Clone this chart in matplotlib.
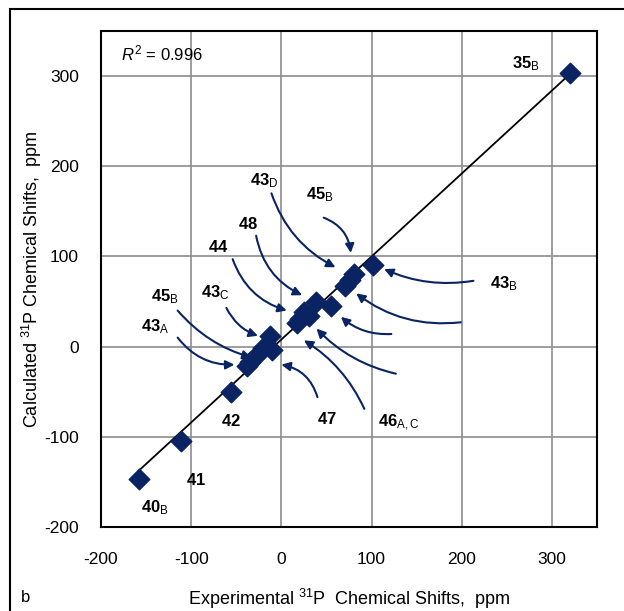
import numpy as np
import matplotlib.pyplot as plt
from matplotlib.patches import Rectangle

plt.rcParams['font.family'] = ['Liberation Sans', 'DejaVu Sans']
plt.rcParams['mathtext.fontset'] = 'custom'
plt.rcParams['mathtext.rm'] = 'Liberation Sans'
plt.rcParams['mathtext.it'] = 'Liberation Sans:italic'
plt.rcParams['mathtext.bf'] = 'Liberation Sans:bold'
plt.rcParams['axes.unicode_minus'] = False

# Data (ppm)
exp_shift = np.array([320, 102, 81, 76, 71, 38, 55, 25, 31, 21, 17,
                      -13, -10, -20, -28, -35, -38, -56, -111, -158])
calc_shift = np.array([303, 91, 81, 74, 67, 50, 45, 38, 34, 31, 26,
                       12, -4, -1, -10, -17, -21, -50, -105, -147])

# compound labels (text, x, y) in data coords
labels = [
    (r'$\mathbf{35}_\mathrm{B}$', 271, 314),
    (r'$\mathbf{40}_\mathrm{B}$', -140, -179),
    (r'$\mathbf{41}$', -95, -148),
    (r'$\mathbf{42}$', -56, -82),
    (r'$\mathbf{43}_\mathrm{D}$', -19, 184),
    (r'$\mathbf{45}_\mathrm{B}$', 43, 169),
    (r'$\mathbf{48}$', -37, 136),
    (r'$\mathbf{44}$', -70, 110),
    (r'$\mathbf{43}_\mathrm{C}$', -73, 60),
    (r'$\mathbf{45}_\mathrm{B}$', -129, 55),
    (r'$\mathbf{43}_\mathrm{A}$', -140, 22),
    (r'$\mathbf{43}_\mathrm{B}$', 247, 70),
    (r'$\mathbf{47}$', 50, -80),
    (r'$\mathbf{46}_\mathrm{A,C}$', 130, -85),
]

# arrows: start, end, curvature
arrows = [
    ((-11, 170), (60, 88), 0.2),
    ((47, 143), (77, 104), -0.3),
    ((-28, 123), (23, 57), 0.25),
    ((-54, 97), (6, 40), 0.25),
    ((-61, 43), (-26, 12), 0.2),
    ((-115, 40), (-33, -12), 0.15),
    ((-115, 10), (-52, -20), 0.25),
    ((213, 73), (114, 86), -0.15),
    ((199, 27), (83, 59), -0.2),
    ((122, 14), (66, 33), -0.2),
    ((127, -30), (39, 20), -0.15),
    ((92, -69), (25, 7), 0.15),
    ((40, -56), (0, -20), 0.3),
]

navy = '#0a2463'

fig = plt.figure(figsize=(6.24, 6.11), dpi=100)
fig.patches.append(Rectangle((10 / 624, -0.1), 1.2, 1 - 9 / 611 + 0.1,
                             transform=fig.transFigure, fill=False,
                             edgecolor='black', lw=1.5))
ax = fig.add_axes([101 / 624, 1 - 527 / 611, 496 / 624, 496 / 611])

ax.set_xlim(-200, 350)
ax.set_ylim(-200, 350)
ax.set_xticks(np.arange(-200, 301, 100))
ax.set_yticks(np.arange(-200, 301, 100))
ax.grid(True, color='#8c8c8c', lw=1.2)
ax.set_axisbelow(True)
ax.tick_params(length=0, labelsize=12.5)
ax.tick_params(axis='x', pad=18)
ax.tick_params(axis='y', pad=16)
for s in ax.spines.values():
    s.set_linewidth(1.5)

# linear fit
k, m = np.polyfit(exp_shift, calc_shift, 1)
xl = np.array([exp_shift.min(), exp_shift.max()])
ax.plot(xl, k * xl + m, color='black', lw=1.3, zorder=2)

ax.scatter(exp_shift, calc_shift, marker='D', s=110, color=navy, zorder=3)

for (x0, y0), (x1, y1), rad in arrows:
    ax.annotate('', xy=(x1, y1), xytext=(x0, y0),
                arrowprops=dict(arrowstyle='-|>', color=navy, lw=1.5,
                                mutation_scale=13, shrinkA=0, shrinkB=0,
                                connectionstyle='arc3,rad=%s' % rad))

for txt, x, y in labels:
    ax.text(x, y, txt, fontsize=12, ha='center', va='center')

ax.text(0.04, 0.955, r'$R^2$ = 0.996', transform=ax.transAxes, fontsize=12,
        va='center')

ax.set_xlabel(r'Experimental $^{31}$P  Chemical Shifts,  ppm', fontsize=13,
              labelpad=14)
ax.set_ylabel(r'Calculated $^{31}$P Chemical Shifts,  ppm', fontsize=13,
              labelpad=0)
fig.text(21 / 624, 1 - 597 / 611, 'b', fontsize=12, va='center')

fig.savefig('out.png', dpi=100)
